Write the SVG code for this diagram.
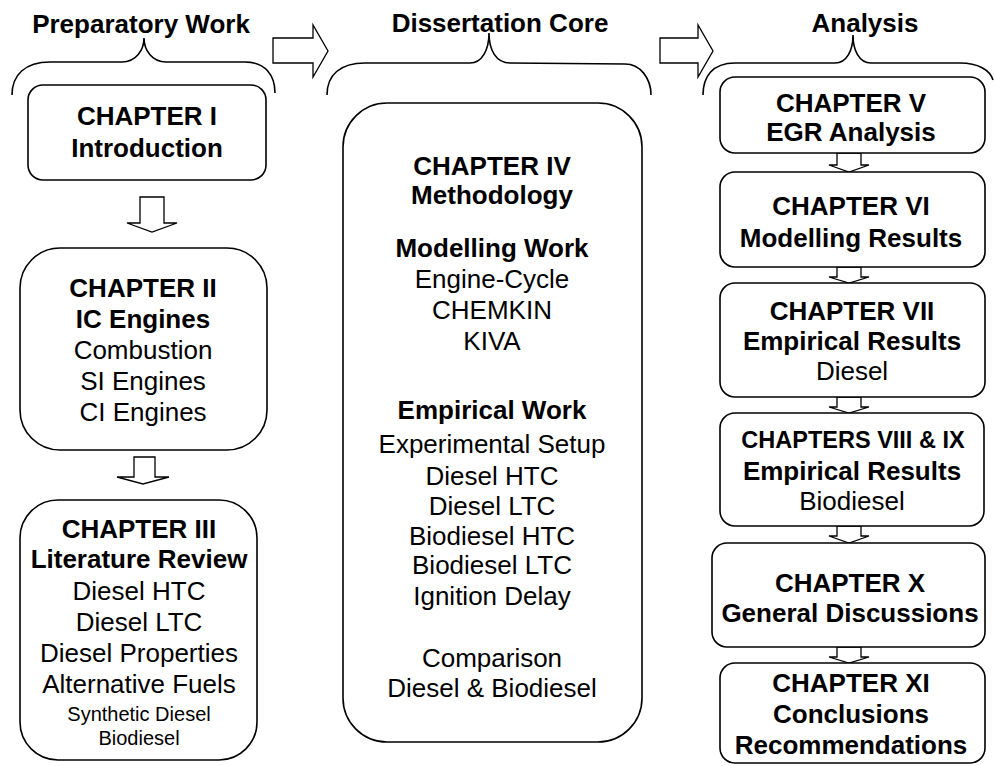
<svg xmlns="http://www.w3.org/2000/svg" width="994" height="766" viewBox="0 0 994 766">
<style>
.bx{fill:#fff;stroke:#000;stroke-width:1.6}
.ar{fill:#fff;stroke:#000;stroke-width:1.3;stroke-linejoin:miter}
.br{fill:none;stroke:#000;stroke-width:1.6}
text{font-family:"Liberation Sans",Arial,Helvetica,sans-serif;font-size:26px;fill:#000;text-anchor:middle}
.b{font-weight:bold}
.s{font-size:20px}
</style>
<rect width="994" height="766" fill="#fff"/>
<g id="headers">
<text class="b" x="141" y="33">Preparatory Work</text>
<text class="b" x="500" y="32">Dissertation Core</text>
<text class="b" x="865" y="32">Analysis</text>
<path class="br" d="M12,95 C12,75 25,62 50,62 L122,62 C136,62 144,50 144,38 C144,50 152,62 166,62 L245,62 C265,62 275,75 275,93"/>
<path class="br" d="M327,95 C327,75 340,63 365,63 L470,63 C482,63 489,50 489,33 C489,50 496,63 510,63 L625,64 C640,64 651,78 651,95"/>
<path class="br" d="M703,95 C703,77 712,63 735,63 L835,63 C847,63 853,50 853,35 C853,50 859,63 871,63 L960,63 C978,63 990,70 993,80"/>
</g>
<g id="connectors">
<polygon class="ar" points="273,38 313,38 313,25 328,51 313,77 313,63 273,63"/>
<polygon class="ar" points="660,38 698,38 698,25 713,51 698,77 698,63 660,63"/>
<polygon class="ar" points="140,197 164,197 164,223 177,223 152,232 127,223 140,223"/>
<polygon class="ar" points="134,457 155,457 155,477 169,477 143,484 117,477 134,477"/>
<polygon class="ar" points="837,153 861,153 861,165 869,165 849,172 829,165 837,165"/>
<polygon class="ar" points="837,267 861,267 861,277 869,277 849,283 829,277 837,277"/>
<polygon class="ar" points="837,397 861,397 861,407 869,407 849,413 829,407 837,407"/>
<polygon class="ar" points="837,526 861,526 861,536 869,536 849,543 829,536 837,536"/>
<polygon class="ar" points="837,647 861,647 861,657 869,657 849,663 829,657 837,657"/>
</g>
<g id="ch1">
<rect class="bx" x="28" y="85" width="238" height="95" rx="15"/>
<text class="b" x="147" y="125">CHAPTER I</text>
<text class="b" x="147" y="157">Introduction</text>
</g>
<g id="ch2">
<rect class="bx" x="20" y="248" width="247" height="202" rx="40"/>
<text class="b" x="143" y="297">CHAPTER II</text>
<text class="b" x="143" y="328">IC Engines</text>
<text x="143" y="359">Combustion</text>
<text x="143" y="390">SI Engines</text>
<text x="143" y="421">CI Engines</text>
</g>
<g id="ch3">
<rect class="bx" x="20" y="500" width="237" height="260" rx="38"/>
<text class="b" x="139" y="538">CHAPTER III</text>
<text class="b" x="139" y="568">Literature Review</text>
<text x="139" y="600">Diesel HTC</text>
<text x="139" y="631">Diesel LTC</text>
<text x="139" y="662">Diesel Properties</text>
<text x="139" y="693">Alternative Fuels</text>
<text class="s" x="139" y="721">Synthetic Diesel</text>
<text class="s" x="139" y="745">Biodiesel</text>
</g>
<g id="ch4">
<rect class="bx" x="343" y="103" width="299" height="639" rx="44"/>
<text class="b" x="492" y="175">CHAPTER IV</text>
<text class="b" x="492" y="204">Methodology</text>
<text class="b" x="492" y="257">Modelling Work</text>
<text x="492" y="288">Engine-Cycle</text>
<text x="492" y="319">CHEMKIN</text>
<text x="492" y="350">KIVA</text>
<text class="b" x="492" y="419">Empirical Work</text>
<text x="492" y="453">Experimental Setup</text>
<text x="492" y="485">Diesel HTC</text>
<text x="492" y="515">Diesel LTC</text>
<text x="492" y="545">Biodiesel HTC</text>
<text x="492" y="574">Biodiesel LTC</text>
<text x="492" y="605">Ignition Delay</text>
<text x="492" y="667">Comparison</text>
<text x="492" y="697">Diesel &amp; Biodiesel</text>
</g>
<g id="ch5">
<rect class="bx" x="720" y="77" width="265" height="76" rx="15"/>
<text class="b" x="851" y="112">CHAPTER V</text>
<text class="b" x="851" y="141">EGR Analysis</text>
</g>
<g id="ch6">
<rect class="bx" x="720" y="172" width="265" height="95" rx="15"/>
<text class="b" x="851" y="215">CHAPTER VI</text>
<text class="b" x="851" y="247">Modelling Results</text>
</g>
<g id="ch7">
<rect class="bx" x="720" y="283" width="265" height="114" rx="15"/>
<text class="b" x="852" y="320">CHAPTER VII</text>
<text class="b" x="852" y="350">Empirical Results</text>
<text x="852" y="380">Diesel</text>
</g>
<g id="ch89">
<rect class="bx" x="720" y="413" width="264" height="113" rx="15"/>
<text class="b" x="853" y="448" style="font-size:23.5px">CHAPTERS VIII &amp; IX</text>
<text class="b" x="852" y="480">Empirical Results</text>
<text x="852" y="510">Biodiesel</text>
</g>
<g id="ch10">
<rect class="bx" x="712" y="543" width="273" height="104" rx="15"/>
<text class="b" x="850" y="592">CHAPTER X</text>
<text class="b" x="850" y="622">General Discussions</text>
</g>
<g id="ch11">
<rect class="bx" x="720" y="663" width="265" height="100" rx="15"/>
<text class="b" x="851" y="692">CHAPTER XI</text>
<text class="b" x="851" y="723">Conclusions</text>
<text class="b" x="851" y="754">Recommendations</text>
</g>
</svg>
